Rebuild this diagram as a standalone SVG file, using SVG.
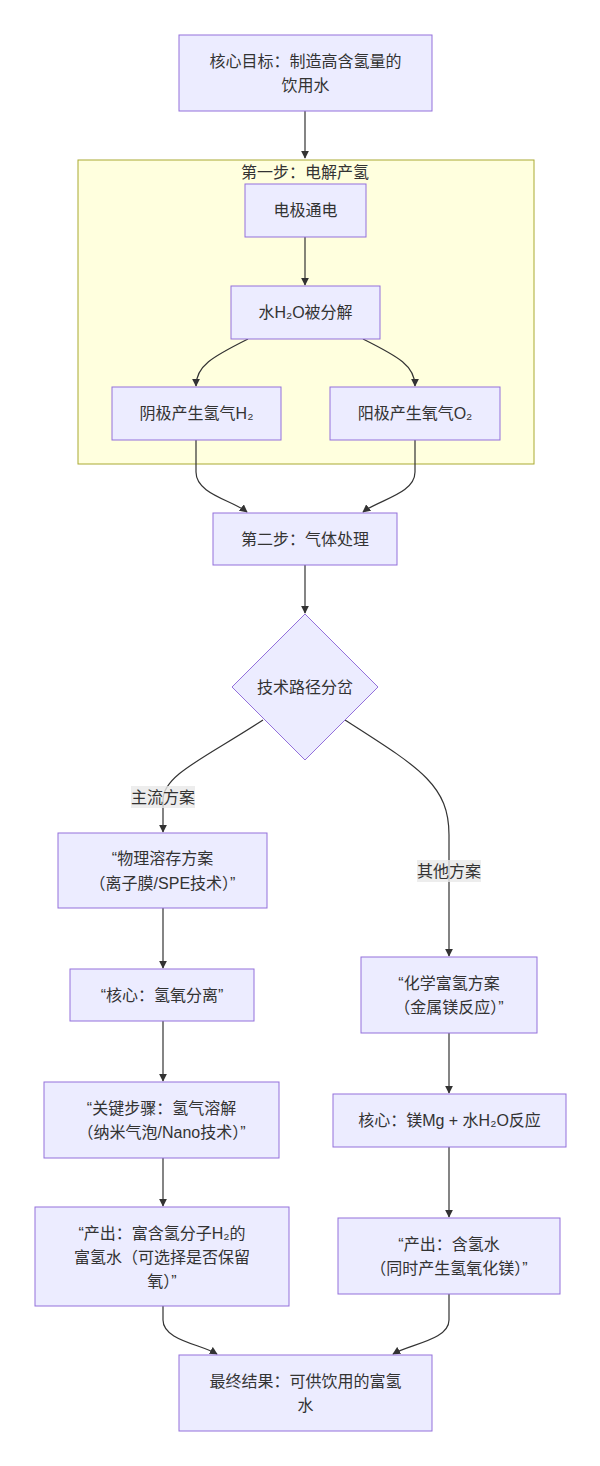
<svg xmlns="http://www.w3.org/2000/svg" width="600" height="1466" viewBox="0 0 600 1466">
<style>
.bg{fill:#ffffff}
.cluster{fill:#ffffde;stroke:#aaaa33;stroke-width:1}
.node{fill:#ececff;stroke:#9370db;stroke-width:1}
.t{font-family:"Liberation Sans","Noto Sans CJK SC",sans-serif;font-size:16px;fill:#333333;text-anchor:middle;dominant-baseline:central}
.edge{fill:none;stroke:#333333;stroke-width:1.2}
.lbg{fill:#e8e8e8;fill-opacity:0.8}
</style>
<defs>
<marker id="arr" viewBox="0 0 10 10" refX="9" refY="5" markerWidth="8" markerHeight="8" markerUnits="userSpaceOnUse" orient="auto">
<path d="M0,0 L10,5 L0,10 z" fill="#333333"/>
</marker>
</defs>
<rect class="bg" x="0" y="0" width="600" height="1466"/>

<g id="cluster-step1">
<rect class="cluster" x="78" y="160" width="456" height="304"/>
<text class="t" x="305" y="172">第一步：电解产氢</text>
</g>

<g id="connectors">
<path class="edge" d="M305,111 L305,158" marker-end="url(#arr)"/>
<path class="edge" d="M305,237 L305,285" marker-end="url(#arr)"/>
<path class="edge" d="M248,339 C212,357 196,366 196,386" marker-end="url(#arr)"/>
<path class="edge" d="M363,339 C399,357 415,366 415,386" marker-end="url(#arr)"/>
<path class="edge" d="M196,440 L196,472 C196,494 232,500 247,512" marker-end="url(#arr)"/>
<path class="edge" d="M415,440 L415,472 C415,494 378,500 363,512" marker-end="url(#arr)"/>
<path class="edge" d="M305,565 L305,613" marker-end="url(#arr)"/>
<path class="edge" d="M263,720 C205,758 163,775 163,800 L163,832" marker-end="url(#arr)"/>
<path class="edge" d="M345,720 C420,768 449,785 449,835 L449,956" marker-end="url(#arr)"/>
<path class="edge" d="M163,908 L163,968" marker-end="url(#arr)"/>
<path class="edge" d="M163,1021 L163,1081" marker-end="url(#arr)"/>
<path class="edge" d="M163,1158 L163,1206" marker-end="url(#arr)"/>
<path class="edge" d="M449,1033 L449,1093" marker-end="url(#arr)"/>
<path class="edge" d="M449,1147 L449,1217" marker-end="url(#arr)"/>
<path class="edge" d="M163,1306 L163,1320 C163,1340 200,1344 217,1354" marker-end="url(#arr)"/>
<path class="edge" d="M449,1294 L449,1320 C449,1340 410,1344 393,1354" marker-end="url(#arr)"/>
<rect class="lbg" x="131" y="786" width="64" height="22"/>
<text class="t" x="163" y="797">主流方案</text>
<rect class="lbg" x="417" y="860" width="64" height="22"/>
<text class="t" x="449" y="871">其他方案</text>
</g>

<g id="goal">
<rect class="node" x="179" y="35" width="253" height="76"/>
<text class="t" x="305.5" y="61">核心目标：制造高含氢量的</text>
<text class="t" x="305.5" y="85">饮用水</text>
</g>
<g id="electrode">
<rect class="node" x="245" y="184" width="121" height="53"/>
<text class="t" x="305.5" y="210.5">电极通电</text>
</g>
<g id="split">
<rect class="node" x="231" y="286" width="149" height="53"/>
<text class="t" x="305.5" y="312.5">水H₂O被分解</text>
</g>
<g id="cathode">
<rect class="node" x="112" y="387" width="169" height="53"/>
<text class="t" x="196.5" y="413.5">阴极产生氢气H₂</text>
</g>
<g id="anode">
<rect class="node" x="330" y="387" width="170" height="53"/>
<text class="t" x="415" y="413.5">阳极产生氧气O₂</text>
</g>
<g id="step2">
<rect class="node" x="213" y="513" width="184" height="52"/>
<text class="t" x="305" y="539">第二步：气体处理</text>
</g>
<g id="decision">
<polygon class="node" points="305,614 378,687 305,760 232,687"/>
<text class="t" x="305" y="687">技术路径分岔</text>
</g>
<g id="physical">
<rect class="node" x="58" y="833" width="209" height="75"/>
<text class="t" x="162.5" y="858">“物理溶存方案</text>
<text class="t" x="162.5" y="883">（离子膜/SPE技术）”</text>
</g>
<g id="core-left">
<rect class="node" x="70" y="969" width="184" height="52"/>
<text class="t" x="162" y="995">“核心：氢氧分离”</text>
</g>
<g id="key-step">
<rect class="node" x="44" y="1082" width="235" height="76"/>
<text class="t" x="161.5" y="1108">“关键步骤：氢气溶解</text>
<text class="t" x="161.5" y="1132">（纳米气泡/Nano技术）”</text>
</g>
<g id="output-left">
<rect class="node" x="35" y="1207" width="254" height="99"/>
<text class="t" x="162" y="1233">“产出：富含氢分子H₂的</text>
<text class="t" x="162" y="1257">富氢水（可选择是否保留</text>
<text class="t" x="162" y="1281">氧）”</text>
</g>
<g id="chemical">
<rect class="node" x="361" y="957" width="176" height="76"/>
<text class="t" x="449" y="983">“化学富氢方案</text>
<text class="t" x="449" y="1007">（金属镁反应）”</text>
</g>
<g id="core-right">
<rect class="node" x="333" y="1094" width="233" height="53"/>
<text class="t" x="449.5" y="1120.5">核心：镁Mg + 水H₂O反应</text>
</g>
<g id="output-right">
<rect class="node" x="338" y="1218" width="222" height="76"/>
<text class="t" x="449" y="1244">“产出：含氢水</text>
<text class="t" x="449" y="1268">（同时产生氢氧化镁）”</text>
</g>
<g id="final">
<rect class="node" x="179" y="1355" width="253" height="76"/>
<text class="t" x="305.5" y="1381">最终结果：可供饮用的富氢</text>
<text class="t" x="305.5" y="1405">水</text>
</g>
</svg>
